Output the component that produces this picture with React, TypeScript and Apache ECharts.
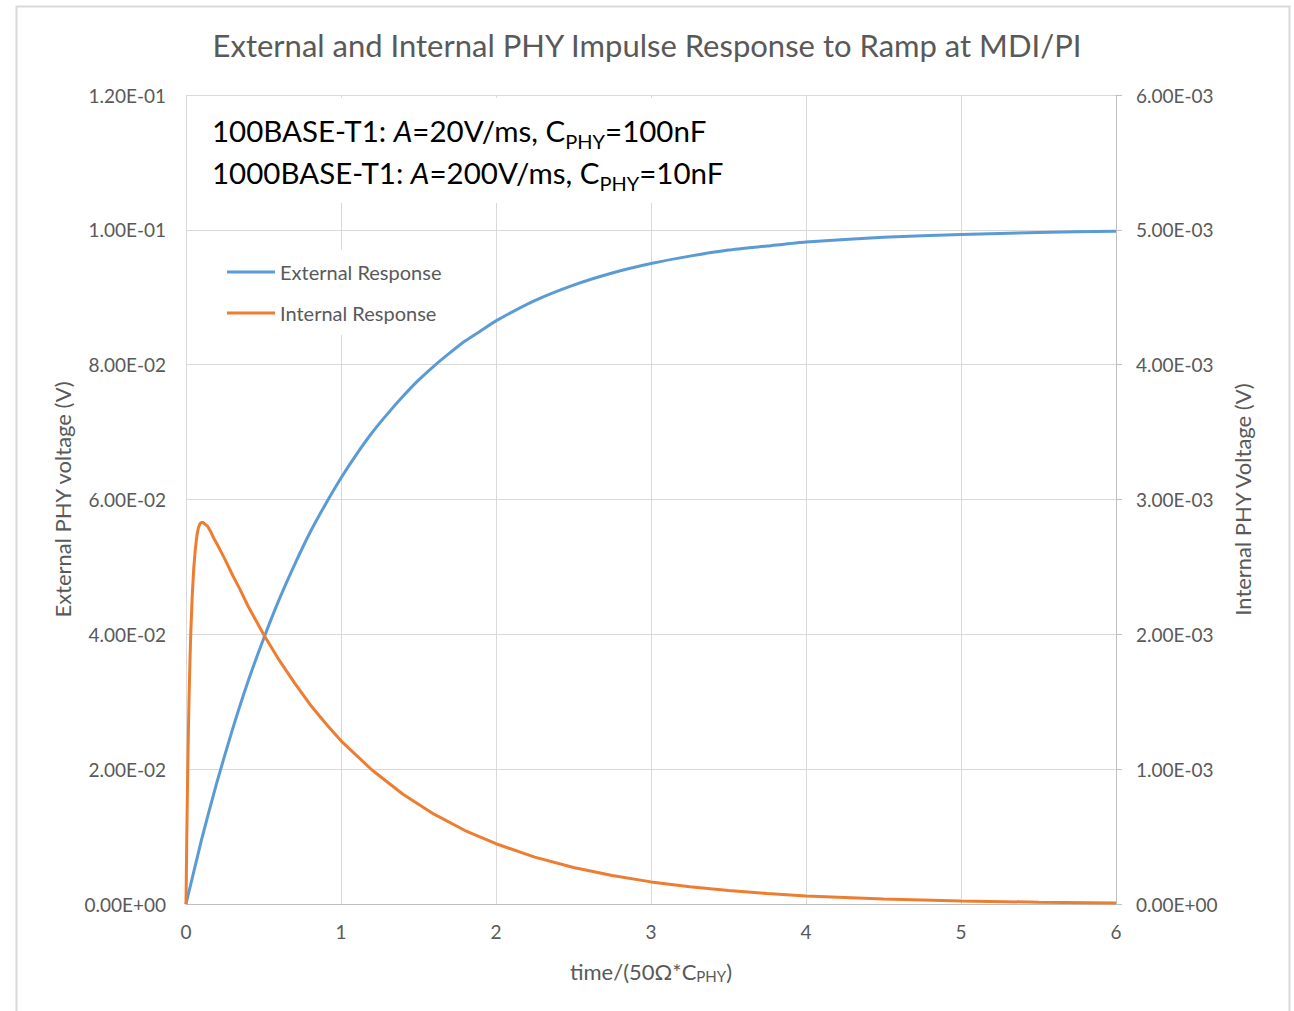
import React, { useEffect, useRef } from "react";
import * as echarts from "echarts";

const titleText = "External and Internal PHY Impulse Response to Ramp at MDI/PI";
const seriesNames = ["External Response", "Internal Response"];

// time/(50Ω*C_PHY) vs External PHY voltage (V)
const externalT = [0, 0.1, 0.2, 0.3, 0.4, 0.5, 0.6, 0.7, 0.8, 0.9, 1.0, 1.1, 1.2, 1.3, 1.4, 1.5, 1.6, 1.7, 1.8, 1.9, 2.0, 2.25, 2.5, 2.75, 3, 3.25, 3.5, 3.75, 4, 4.5, 5, 5.5, 6];
const externalV = [0, 0.0095, 0.0181, 0.0259, 0.033, 0.0393, 0.0451, 0.0503, 0.0551, 0.0593, 0.0632, 0.0667, 0.0699, 0.0727, 0.0753, 0.0777, 0.0798, 0.0817, 0.0835, 0.085, 0.0865, 0.0895, 0.0918, 0.0936, 0.095, 0.0961, 0.097, 0.0976, 0.0982, 0.0989, 0.0993, 0.0996, 0.0998];

// time/(50Ω*C_PHY) vs Internal PHY voltage (V)
const internalT = [0, 0.005, 0.01, 0.015, 0.02, 0.025, 0.03, 0.04, 0.05, 0.06, 0.07, 0.08, 0.09, 0.1, 0.11, 0.12, 0.14, 0.16, 0.18, 0.2, 0.25, 0.3, 0.35, 0.4, 0.5, 0.6, 0.7, 0.8, 0.9, 1.0, 1.2, 1.4, 1.6, 1.8, 2.0, 2.25, 2.5, 2.75, 3, 3.25, 3.5, 3.75, 4, 4.5, 5, 5.5, 6];
const internalV = [0, 0.00049, 0.0009, 0.00125, 0.00154, 0.00178, 0.00198, 0.00228, 0.00249, 0.00263, 0.00273, 0.00279, 0.00282, 0.00283, 0.00283, 0.00282, 0.0028, 0.00276, 0.00271, 0.00267, 0.00256, 0.00244, 0.00233, 0.00221, 0.002, 0.00181, 0.00164, 0.00148, 0.00134, 0.00121, 0.000994, 0.000814, 0.000666, 0.000545, 0.000447, 0.000348, 0.000271, 0.000211, 0.000164, 0.000128, 0.0001, 0.0000776, 0.00006, 0.000037, 0.000022, 0.0000135, 0.0000082];

const xTicks = { min: 0, max: 6, interval: 1 };
const leftTicks = { min: 0, max: 0.12, interval: 0.02 };
const rightTicks = { min: 0, max: 0.006, interval: 0.001 };

const FONT = "Lato";
const GREY = "#595959";

function sci(v: number): string {
  const s = Number(v).toExponential(2);
  const [m, e] = s.split("e");
  const sign = e[0] === "-" ? "-" : "+";
  const digits = e.replace(/[+-]/, "").padStart(2, "0");
  return `${m}E${sign}${digits}`;
}

export default function App() {
  const ref = useRef<HTMLDivElement>(null);
  useEffect(() => {
    if (!ref.current) return;
    const chart = echarts.init(ref.current, undefined, { renderer: "svg" });
    const extData = externalT.map((t, i) => [t, externalV[i]]);
    const intData = internalT.map((t, i) => [t, internalV[i]]);
    const richSub = {
      sub: { fontSize: 20, fontFamily: FONT, color: "#000", verticalAlign: "bottom", padding: [11, 0, 0, 0] },
      i: { fontSize: 29.5, fontFamily: FONT, fontStyle: "italic", color: "#000" },
      n: { fontSize: 29.5, fontFamily: FONT, color: "#000" },
    };
    chart.setOption({
      animation: false,
      backgroundColor: "#fff",
      title: {
        text: titleText,
        left: "center",
        top: 24,
        textStyle: { fontFamily: FONT, fontSize: 31, fontWeight: "normal", color: GREY },
      },
      grid: { left: 186, right: 178, top: 95, bottom: 107 },
      legend: {
        data: seriesNames,
        orient: "vertical",
        left: 187,
        top: 250,
        padding: [11, 10, 11, 40],
        backgroundColor: "#fff",
        itemWidth: 48,
        itemHeight: 3,
        itemGap: 19,
        icon: "rect",
        textStyle: { fontFamily: FONT, fontSize: 20, color: GREY, lineHeight: 22 },
      },
      xAxis: {
        type: "value",
        ...xTicks,
        name: "time/(50Ω*C{s|PHY})",
        nameLocation: "middle",
        nameGap: 55,
        nameTextStyle: {
          fontFamily: FONT,
          fontSize: 22,
          color: GREY,
          rich: { s: { fontFamily: FONT, fontSize: 15, color: GREY, verticalAlign: "bottom", padding: [9, 0, 0, 0] } },
        },
        axisLine: { show: true, lineStyle: { color: "#bfbfbf" } },
        axisTick: { show: false },
        axisLabel: { fontFamily: FONT, fontSize: 19, color: GREY, margin: 18 },
        splitLine: { show: true, lineStyle: { color: "#d9d9d9" } },
      },
      yAxis: [
        {
          type: "value",
          ...leftTicks,
          name: "External PHY voltage (V)",
          nameLocation: "middle",
          nameGap: 113,
          nameTextStyle: { fontFamily: FONT, fontSize: 22, color: GREY },
          axisLine: { show: false },
          axisTick: { show: false },
          axisLabel: { fontFamily: FONT, fontSize: 19, color: GREY, margin: 20, formatter: (v: number) => sci(v) },
          splitLine: { show: true, lineStyle: { color: "#d9d9d9" } },
        },
        {
          type: "value",
          ...rightTicks,
          position: "right",
          name: "Internal PHY Voltage (V)",
          nameLocation: "middle",
          nameGap: 115,
          nameTextStyle: { fontFamily: FONT, fontSize: 22, color: GREY },
          axisLine: { show: true, lineStyle: { color: "#bfbfbf" } },
          axisTick: { show: true, inside: false, length: 6, lineStyle: { color: "#bfbfbf" } },
          axisLabel: { fontFamily: FONT, fontSize: 19, color: GREY, margin: 20, formatter: (v: number) => sci(v) },
          splitLine: { show: false },
        },
      ],
      graphic: [
        {
          type: "rect",
          left: 14,
          top: 4,
          shape: { width: 1273, height: 1020 },
          style: { fill: "none", stroke: "#d9d9d9", lineWidth: 2 },
          silent: true,
          z: 0,
        },
        {
          type: "rect",
          left: 187,
          top: 98,
          shape: { width: 560, height: 105 },
          style: { fill: "#fff" },
          z: 1,
        },
        {
          type: "text",
          left: 212,
          top: 109,
          z: 2,
          style: {
            text: "{n|100BASE-T1: }{i|A}{n|=20V/ms, C}{sub|PHY}{n|=100nF}\n{n|1000BASE-T1: }{i|A}{n|=200V/ms, C}{sub|PHY}{n|=10nF}",
            rich: richSub,
            lineHeight: 42,
            fill: "#000",
            font: `29.5px ${FONT}`,
          },
        },
      ],
      series: [
        {
          name: seriesNames[0],
          type: "line",
          data: extData,
          yAxisIndex: 0,
          showSymbol: false,
          smooth: 0.2,
          lineStyle: { color: "#5B9BD5", width: 3 },
          itemStyle: { color: "#5B9BD5" },
          z: 3,
        },
        {
          name: seriesNames[1],
          type: "line",
          data: intData,
          yAxisIndex: 1,
          showSymbol: false,
          smooth: false,
          lineStyle: { color: "#ED7D31", width: 3 },
          itemStyle: { color: "#ED7D31" },
          z: 3,
        },
      ],
    });
    return () => chart.dispose();
  }, []);
  return <div ref={ref} style={{ position: "fixed", left: 0, top: 0, width: 1294, height: 1011 }} />;
}
